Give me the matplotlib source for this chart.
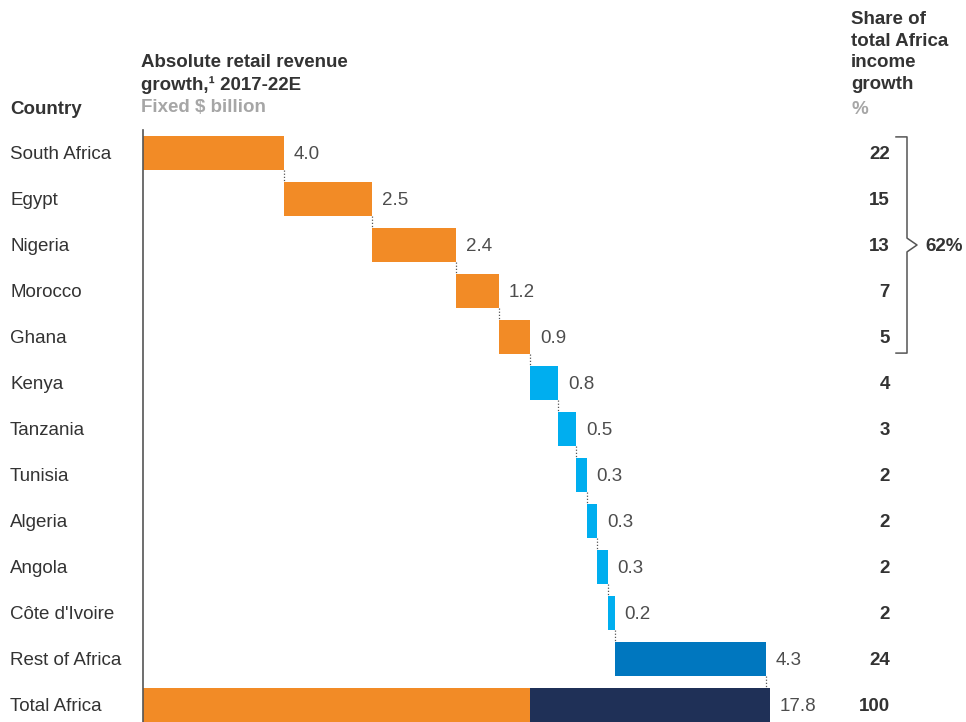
"""Waterfall of retail revenue growth by African country, 2017-22E."""
import numpy as np
import matplotlib
matplotlib.use("Agg")
import matplotlib.pyplot as plt
from matplotlib.transforms import blended_transform_factory

plt.rcParams['font.family'] = ['Liberation Sans', 'DejaVu Sans']

countries = ["South Africa", "Egypt", "Nigeria", "Morocco", "Ghana", "Kenya",
             "Tanzania", "Tunisia", "Algeria", "Angola", "Côte d'Ivoire",
             "Rest of Africa"]
growth = [4.0, 2.5, 2.4, 1.2, 0.9, 0.8, 0.5, 0.3, 0.3, 0.3, 0.2, 4.3]
share = [22, 15, 13, 7, 5, 4, 3, 2, 2, 2, 2, 24]
total_label = "Total Africa"
total_growth = 17.8
total_share = 100
top_share = "62%"

ORANGE = '#F28B26'
LIGHT_BLUE = '#00AEEF'
MID_BLUE = '#0077BF'
NAVY = '#1F3057'
TEXT = '#333333'
VALUE = '#4D4D4D'
GREY = '#A6A6A6'
FS = 13.5

W, H = 966, 722
fig = plt.figure(figsize=(W / 100, H / 100), dpi=100)
# axes: x=0 at 143px, 35.2px per $bn; rows 46px apart
ax = fig.add_axes([143 / W, 0, 704 / W, 592 / H])
ax.set_xlim(0, 704 / 35.2)
ax.set_ylim(12.37, -0.5)
ax.axis('off')

n = len(growth)
ends = np.cumsum(growth)
starts = ends - np.array(growth)
colors = [ORANGE] * 5 + [LIGHT_BLUE] * 6 + [MID_BLUE]
bh = 0.74

ax.barh(range(n), growth, left=starts, height=bh, color=colors)
for i in range(n):
    ax.text(ends[i] + 0.28, i, f"{growth[i]:.1f}", va='center_baseline',
            ha='left', fontsize=FS, color=VALUE)
    # dotted connector down to the next bar
    ax.plot([ends[i], ends[i]], [i + bh / 2, i + 1 - bh / 2], color='#555555',
            lw=0.9, ls=(0, (1, 1.5)))

# total bar: top five in orange, the rest in navy
top5 = ends[4]
ax.barh(n, top5, left=0, height=bh, color=ORANGE)
ax.barh(n, total_growth - top5, left=top5, height=bh, color=NAVY)
ax.text(total_growth + 0.28, n, f"{total_growth:.1f}", va='center_baseline',
        ha='left', fontsize=FS, color=VALUE)

# vertical baseline
ax.plot([0, 0], [-0.5, 12.37], color='#555555', lw=1.2, clip_on=False)

# row labels and share column
tr = blended_transform_factory(fig.transFigure, ax.transData)
for i, name in enumerate(countries + [total_label]):
    fig.text(10 / W, i, name, transform=tr, va='center_baseline', ha='left',
             fontsize=FS, color=TEXT)
for i, s in enumerate(share + [total_share]):
    fig.text(890 / W, i, str(s), transform=tr, va='center_baseline', ha='right',
             fontsize=FS, color=TEXT, fontweight='bold')

# bracket round the top five shares
x0, x1, xp = 896 / W, 907 / W, 917 / W
y_top, y_bot = -0.35, 4.35
ax.plot([x0, x1, x1, xp, x1, x1, x0], [y_top, y_top, 1.85, 2, 2.15, y_bot, y_bot],
        transform=tr, color='#555555', lw=1.1, clip_on=False)
fig.text(925 / W, 2, top_share, transform=tr, va='center_baseline', ha='left',
         fontsize=FS, color=TEXT, fontweight='bold')

# column headers
def px(x, y):
    return x / W, 1 - y / H

fig.text(*px(10, 107), "Country", va='center_baseline', ha='left',
         fontsize=FS, color=TEXT, fontweight='bold')
fig.text(*px(141, 74), "Absolute retail revenue\ngrowth,\u00b9 2017-22E",
         va='center', ha='left', fontsize=FS, color=TEXT, fontweight='bold',
         linespacing=1.35)
fig.text(*px(141, 106), "Fixed $ billion", va='center_baseline', ha='left',
         fontsize=FS, color=GREY, fontweight='bold')
fig.text(*px(851, 52), "Share of\ntotal Africa\nincome\ngrowth", va='center',
         ha='left', fontsize=FS, color=TEXT, fontweight='bold', linespacing=1.35)
fig.text(*px(851, 108), "%", va='center_baseline', ha='left', fontsize=FS,
         color=GREY, fontweight='bold')

fig.savefig("out.png", dpi=100)
